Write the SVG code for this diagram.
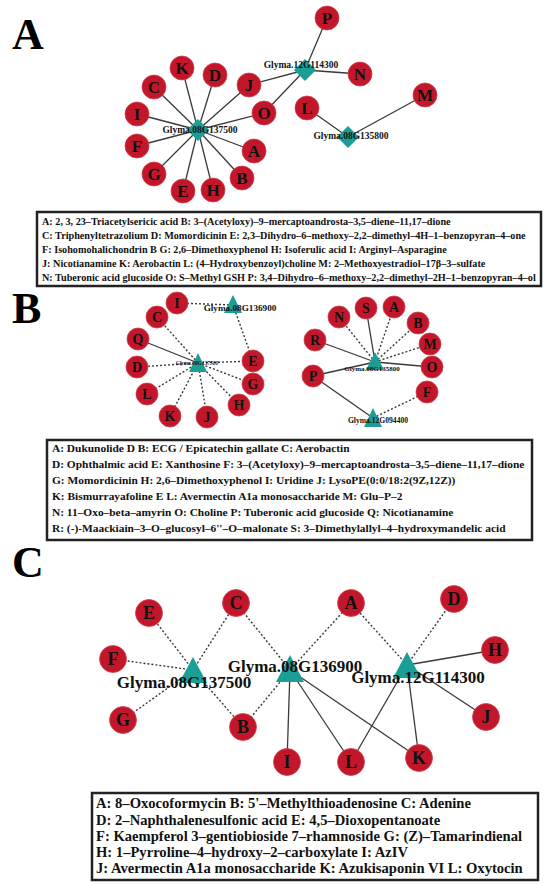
<svg xmlns="http://www.w3.org/2000/svg" width="550" height="885" viewBox="0 0 550 885">
<style>
.panel{font-family:"Liberation Serif",serif;font-weight:bold;font-size:44px;fill:#000}
.met{fill:#c2172b;stroke:#d2404d;stroke-width:0.8}
.gene{fill:#1a9e96}
.ltr{font-family:"Liberation Serif",serif;font-weight:bold;fill:#111;text-anchor:middle;dominant-baseline:central}
.glab{font-family:"Liberation Serif",serif;font-weight:bold;fill:#111;text-anchor:middle}
.e{stroke:#3a3a3a;stroke-width:1.3;fill:none}
.d{stroke:#3a3a3a;stroke-width:1.4;fill:none;stroke-dasharray:2,2}
.box{fill:#fff;stroke:#222;stroke-width:2.5}
.leg{font-family:"Liberation Serif",serif;font-weight:bold;fill:#111}
</style>
<rect width="550" height="885" fill="#fff"/>

<text class="panel" x="12" y="49">A</text>
<text class="panel" x="12" y="323">B</text>
<text class="panel" x="12" y="577">C</text>

<!-- Panel A connectors -->
<g id="edges-A">
<line class="e" x1="198" y1="130" x2="182" y2="68"/>
<line class="e" x1="198" y1="130" x2="215" y2="75"/>
<line class="e" x1="198" y1="130" x2="154" y2="87"/>
<line class="e" x1="198" y1="130" x2="249" y2="85"/>
<line class="e" x1="198" y1="130" x2="137" y2="114"/>
<line class="e" x1="198" y1="130" x2="264" y2="113"/>
<line class="e" x1="198" y1="130" x2="137" y2="146"/>
<line class="e" x1="198" y1="130" x2="254" y2="151"/>
<line class="e" x1="198" y1="130" x2="154" y2="174"/>
<line class="e" x1="198" y1="130" x2="242" y2="178"/>
<line class="e" x1="198" y1="130" x2="183" y2="191"/>
<line class="e" x1="198" y1="130" x2="213" y2="190"/>
<line class="e" x1="305" y1="70" x2="327" y2="18"/>
<line class="e" x1="305" y1="70" x2="360" y2="74"/>
<line class="e" x1="305" y1="70" x2="249" y2="85"/>
<line class="e" x1="305" y1="70" x2="264" y2="113"/>
<line class="e" x1="348" y1="137" x2="307" y2="108"/>
<line class="e" x1="348" y1="137" x2="425" y2="95"/>
</g>

<g id="A-Glyma08G137500"><polygon class="gene" points="198,119 209,130 198,141 187,130"/><text class="glab" x="200" y="133" font-size="9.5">Glyma.08G137500</text></g>
<g id="A-Glyma12G114300"><polygon class="gene" points="305,59 316,70 305,81 294,70"/><text class="glab" x="301" y="68" font-size="9.5">Glyma.12G114300</text></g>
<g id="A-Glyma08G135800"><polygon class="gene" points="348,126 359,137 348,148 337,137"/><text class="glab" x="351" y="139" font-size="9.5">Glyma.08G135800</text></g>

<g id="A-K"><circle class="met" cx="182" cy="68" r="12"/><text class="ltr" x="182" y="68" font-size="17">K</text></g>
<g id="A-D"><circle class="met" cx="215" cy="75" r="12"/><text class="ltr" x="215" y="75" font-size="17">D</text></g>
<g id="A-C"><circle class="met" cx="154" cy="87" r="12"/><text class="ltr" x="154" y="87" font-size="17">C</text></g>
<g id="A-J"><circle class="met" cx="249" cy="85" r="12"/><text class="ltr" x="249" y="85" font-size="17">J</text></g>
<g id="A-I"><circle class="met" cx="137" cy="114" r="12"/><text class="ltr" x="137" y="114" font-size="17">I</text></g>
<g id="A-O"><circle class="met" cx="264" cy="113" r="12"/><text class="ltr" x="264" y="113" font-size="17">O</text></g>
<g id="A-F"><circle class="met" cx="137" cy="146" r="12"/><text class="ltr" x="137" y="146" font-size="17">F</text></g>
<g id="A-A"><circle class="met" cx="254" cy="151" r="12"/><text class="ltr" x="254" y="151" font-size="17">A</text></g>
<g id="A-G"><circle class="met" cx="154" cy="174" r="12"/><text class="ltr" x="154" y="174" font-size="17">G</text></g>
<g id="A-B"><circle class="met" cx="242" cy="178" r="12"/><text class="ltr" x="242" y="178" font-size="17">B</text></g>
<g id="A-E"><circle class="met" cx="183" cy="191" r="12"/><text class="ltr" x="183" y="191" font-size="17">E</text></g>
<g id="A-H"><circle class="met" cx="213" cy="190" r="12"/><text class="ltr" x="213" y="190" font-size="17">H</text></g>
<g id="A-P"><circle class="met" cx="327" cy="18" r="12"/><text class="ltr" x="327" y="18" font-size="17">P</text></g>
<g id="A-N"><circle class="met" cx="360" cy="74" r="12"/><text class="ltr" x="360" y="74" font-size="17">N</text></g>
<g id="A-L"><circle class="met" cx="307" cy="108" r="12"/><text class="ltr" x="307" y="108" font-size="17">L</text></g>
<g id="A-M"><circle class="met" cx="425" cy="95" r="12"/><text class="ltr" x="425" y="95" font-size="17">M</text></g>

<g id="legend-A">
<rect class="box" x="37" y="212" width="504" height="74"/>
<text class="leg" font-size="10.2" x="42" y="225">A: 2, 3, 23–Triacetylsericic acid B: 3–(Acetyloxy)–9–mercaptoandrosta–3,5–diene–11,17–dione</text>
<text class="leg" font-size="10.2" x="42" y="239">C: Triphenyltetrazolium D: Momordicinin E: 2,3–Dihydro–6–methoxy–2,2–dimethyl–4H–1–benzopyran–4–one</text>
<text class="leg" font-size="10.2" x="42" y="253">F: Isohomohalichondrin B G: 2,6–Dimethoxyphenol H: Isoferulic acid I: Arginyl–Asparagine</text>
<text class="leg" font-size="10.2" x="42" y="267">J: Nicotianamine K: Aerobactin L: (4–Hydroxybenzoyl)choline M: 2–Methoxyestradiol–17β–3–sulfate</text>
<text class="leg" font-size="10.2" x="42" y="281">N: Tuberonic acid glucoside O: S–Methyl GSH P: 3,4–Dihydro–6–methoxy–2,2–dimethyl–2H–1–benzopyran–4–ol</text>
</g>

<!-- Panel B connectors -->
<g id="edges-B">
<line class="d" x1="233" y1="305" x2="177" y2="303"/>
<line class="d" x1="233" y1="305" x2="253" y2="361"/>
<line class="d" x1="198" y1="363" x2="157" y2="317"/>
<line class="e" x1="198" y1="363" x2="138" y2="339"/>
<line class="d" x1="198" y1="363" x2="137" y2="367"/>
<line class="d" x1="198" y1="363" x2="253" y2="361"/>
<line class="d" x1="198" y1="363" x2="253" y2="384"/>
<line class="d" x1="198" y1="363" x2="147" y2="394"/>
<line class="d" x1="198" y1="363" x2="239" y2="405"/>
<line class="d" x1="198" y1="363" x2="170" y2="416"/>
<line class="d" x1="198" y1="363" x2="207" y2="417"/>
<line class="d" x1="375" y1="362" x2="339" y2="317"/>
<line class="e" x1="375" y1="362" x2="366" y2="308"/>
<line class="d" x1="375" y1="362" x2="394" y2="307"/>
<line class="d" x1="375" y1="362" x2="418" y2="323"/>
<line class="e" x1="375" y1="362" x2="315" y2="340"/>
<line class="d" x1="375" y1="362" x2="430" y2="344"/>
<line class="e" x1="375" y1="362" x2="432" y2="367"/>
<line class="e" x1="375" y1="362" x2="313" y2="376"/>
<line class="e" x1="373" y1="418" x2="313" y2="376"/>
<line class="d" x1="373" y1="418" x2="427" y2="392"/>
</g>

<g id="B-I"><circle class="met" cx="177" cy="303" r="11"/><text class="ltr" x="177" y="303" font-size="14">I</text></g>
<g id="B-C"><circle class="met" cx="157" cy="317" r="11"/><text class="ltr" x="157" y="317" font-size="14">C</text></g>
<g id="B-Q"><circle class="met" cx="138" cy="339" r="11"/><text class="ltr" x="138" y="339" font-size="14">Q</text></g>
<g id="B-E"><circle class="met" cx="253" cy="361" r="11"/><text class="ltr" x="253" y="361" font-size="14">E</text></g>
<g id="B-D"><circle class="met" cx="137" cy="367" r="11"/><text class="ltr" x="137" y="367" font-size="14">D</text></g>
<g id="B-G"><circle class="met" cx="253" cy="384" r="11"/><text class="ltr" x="253" y="384" font-size="14">G</text></g>
<g id="B-L"><circle class="met" cx="147" cy="394" r="11"/><text class="ltr" x="147" y="394" font-size="14">L</text></g>
<g id="B-H"><circle class="met" cx="239" cy="405" r="11"/><text class="ltr" x="239" y="405" font-size="14">H</text></g>
<g id="B-K"><circle class="met" cx="170" cy="416" r="11"/><text class="ltr" x="170" y="416" font-size="14">K</text></g>
<g id="B-J"><circle class="met" cx="207" cy="417" r="11"/><text class="ltr" x="207" y="417" font-size="14">J</text></g>
<g id="B-Glyma08G136900"><polygon class="gene" points="233,295 242,313 224,313"/><text class="glab" x="240" y="311" font-size="9.2">Glyma.08G136900</text></g>
<g id="B-Glyma08G137500"><polygon class="gene" points="198,353 207,372 189,372"/><text class="glab" x="197" y="365" font-size="5.5" font-style="italic">Glyma.08G137500</text></g>

<g id="B-N"><circle class="met" cx="339" cy="317" r="11"/><text class="ltr" x="339" y="317" font-size="14">N</text></g>
<g id="B-S"><circle class="met" cx="366" cy="308" r="11"/><text class="ltr" x="366" y="308" font-size="14">S</text></g>
<g id="B-A"><circle class="met" cx="394" cy="307" r="11"/><text class="ltr" x="394" y="307" font-size="14">A</text></g>
<g id="B-B"><circle class="met" cx="418" cy="323" r="11"/><text class="ltr" x="418" y="323" font-size="14">B</text></g>
<g id="B-R"><circle class="met" cx="315" cy="340" r="11"/><text class="ltr" x="315" y="340" font-size="14">R</text></g>
<g id="B-M"><circle class="met" cx="430" cy="344" r="11"/><text class="ltr" x="430" y="344" font-size="14">M</text></g>
<g id="B-O"><circle class="met" cx="432" cy="367" r="11"/><text class="ltr" x="432" y="367" font-size="14">O</text></g>
<g id="B-P"><circle class="met" cx="313" cy="376" r="11"/><text class="ltr" x="313" y="376" font-size="14">P</text></g>
<g id="B-F"><circle class="met" cx="427" cy="392" r="11"/><text class="ltr" x="427" y="392" font-size="14">F</text></g>
<g id="B-Glyma08G135800"><polygon class="gene" points="375,352 384,370 366,370"/><text class="glab" x="372" y="371" font-size="7">Glyma.08G135800</text></g>
<g id="B-Glyma12G094400"><polygon class="gene" points="373,408 382,427 364,427"/><text class="glab" x="378" y="423" font-size="7.6">Glyma.12G094400</text></g>

<g id="legend-B">
<rect class="box" x="47" y="440" width="485" height="100"/>
<text class="leg" font-size="11.4" x="52" y="452">A: Dukunolide D B: ECG / Epicatechin gallate C: Aerobactin</text>
<text class="leg" font-size="11.4" x="52" y="468">D: Ophthalmic acid E: Xanthosine F: 3–(Acetyloxy)–9–mercaptoandrosta–3,5–diene–11,17–dione</text>
<text class="leg" font-size="11.4" x="52" y="484">G: Momordicinin H: 2,6–Dimethoxyphenol I: Uridine J: LysoPE(0:0/18:2(9Z,12Z))</text>
<text class="leg" font-size="11.4" x="52" y="500">K: Bismurrayafoline E L: Avermectin A1a monosaccharide M: Glu–P–2</text>
<text class="leg" font-size="11.4" x="52" y="516">N: 11–Oxo–beta–amyrin O: Choline P: Tuberonic acid glucoside Q: Nicotianamine</text>
<text class="leg" font-size="11.4" x="52" y="532">R: (-)-Maackiain–3–O–glucosyl–6''–O–malonate S: 3–Dimethylallyl–4–hydroxymandelic acid</text>
</g>

<!-- Panel C connectors -->
<g id="edges-C">
<line class="d" x1="193" y1="670" x2="149" y2="613"/>
<line class="d" x1="193" y1="670" x2="236" y2="603"/>
<line class="d" x1="193" y1="670" x2="113" y2="659"/>
<line class="d" x1="193" y1="670" x2="123" y2="720"/>
<line class="d" x1="193" y1="670" x2="243" y2="727"/>
<line class="d" x1="290" y1="670" x2="236" y2="603"/>
<line class="d" x1="290" y1="670" x2="243" y2="727"/>
<line class="d" x1="290" y1="670" x2="351" y2="603"/>
<line class="e" x1="290" y1="670" x2="287" y2="762"/>
<line class="e" x1="290" y1="670" x2="351" y2="762"/>
<line class="e" x1="290" y1="670" x2="419" y2="758"/>
<line class="d" x1="407" y1="665" x2="351" y2="603"/>
<line class="d" x1="407" y1="665" x2="454" y2="599"/>
<line class="e" x1="407" y1="665" x2="495" y2="650"/>
<line class="e" x1="407" y1="665" x2="486" y2="717"/>
<line class="e" x1="407" y1="665" x2="351" y2="762"/>
<line class="e" x1="407" y1="665" x2="419" y2="758"/>
</g>

<g id="C-E"><circle class="met" cx="149" cy="613" r="13.5"/><text class="ltr" x="149" y="613" font-size="18">E</text></g>
<g id="C-C"><circle class="met" cx="236" cy="603" r="13.5"/><text class="ltr" x="236" y="603" font-size="18">C</text></g>
<g id="C-F"><circle class="met" cx="113" cy="659" r="13.5"/><text class="ltr" x="113" y="659" font-size="18">F</text></g>
<g id="C-G"><circle class="met" cx="123" cy="720" r="13.5"/><text class="ltr" x="123" y="720" font-size="18">G</text></g>
<g id="C-B"><circle class="met" cx="243" cy="727" r="13.5"/><text class="ltr" x="243" y="727" font-size="18">B</text></g>
<g id="C-I"><circle class="met" cx="287" cy="762" r="13.5"/><text class="ltr" x="287" y="762" font-size="18">I</text></g>
<g id="C-A"><circle class="met" cx="351" cy="603" r="13.5"/><text class="ltr" x="351" y="603" font-size="18">A</text></g>
<g id="C-D"><circle class="met" cx="454" cy="599" r="13.5"/><text class="ltr" x="454" y="599" font-size="18">D</text></g>
<g id="C-H"><circle class="met" cx="495" cy="650" r="13.5"/><text class="ltr" x="495" y="650" font-size="18">H</text></g>
<g id="C-J"><circle class="met" cx="486" cy="717" r="13.5"/><text class="ltr" x="486" y="717" font-size="18">J</text></g>
<g id="C-L"><circle class="met" cx="351" cy="762" r="13.5"/><text class="ltr" x="351" y="762" font-size="18">L</text></g>
<g id="C-K"><circle class="met" cx="419" cy="758" r="13.5"/><text class="ltr" x="419" y="758" font-size="18">K</text></g>

<g id="C-Glyma08G137500"><polygon class="gene" points="193,657 207,683 179,683"/><text class="glab" x="184" y="688" font-size="17">Glyma.08G137500</text></g>
<g id="C-Glyma08G136900"><polygon class="gene" points="290,655 304,682 276,682"/><text class="glab" x="295" y="672" font-size="17">Glyma.08G136900</text></g>
<g id="C-Glyma12G114300"><polygon class="gene" points="407,652 421,678 393,678"/><text class="glab" x="418" y="683" font-size="17">Glyma.12G114300</text></g>

<g id="legend-C">
<rect class="box" x="92" y="793" width="446" height="87"/>
<text class="leg" font-size="14.6" x="96" y="808">A: 8–Oxocoformycin B: 5'–Methylthioadenosine C: Adenine</text>
<text class="leg" font-size="14.6" x="96" y="825">D: 2–Naphthalenesulfonic acid E: 4,5–Dioxopentanoate</text>
<text class="leg" font-size="14.6" x="96" y="841">F: Kaempferol 3–gentiobioside 7–rhamnoside G: (Z)–Tamarindienal</text>
<text class="leg" font-size="14.6" x="96" y="857">H: 1–Pyrroline–4–hydroxy–2–carboxylate I: AzIV</text>
<text class="leg" font-size="14.6" x="96" y="873">J: Avermectin A1a monosaccharide K: Azukisaponin VI L: Oxytocin</text>
</g>
</svg>
